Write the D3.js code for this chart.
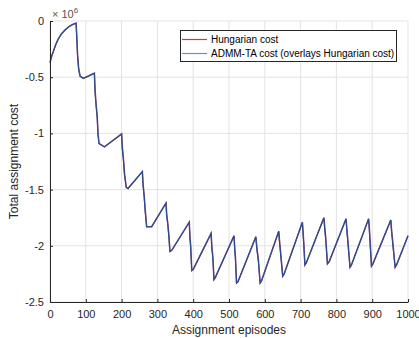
<!DOCTYPE html>
<html>
  <head>
    <meta charset="utf-8">
    <title>Total assignment cost</title>
    <style>
      body {
        margin: 0;
        background: #fff;
        font-family: 'Liberation Sans', Arial, Helvetica, sans-serif;
      }
      .tick text {
        fill: #262626;
        font-size: 11px;
      }
      .axis path.domain,
      .axis .tick line {
        stroke: #262626;
      }
      .grid line {
        stroke: #e3e3e3;
      }
      .label {
        fill: #262626;
        font-size: 12px;
      }
      .legend text {
        fill: #000;
        font-size: 10px;
      }
    </style>
  </head>
  <body>
    <svg width="419" height="338"></svg>
    <script src="https://d3js.org/d3.v7.min.js"></script>
    <script>
      // values in units of 1e6 (axis shows x10^6)
      const episodes = [
        0, 5, 10, 16, 23, 32, 42, 52, 61, 68, 73, 75, 77, 80, 84, 93, 124,
        126, 129, 132, 134, 137, 152, 200,
        202, 205, 208, 213, 218, 258,
        260, 263, 266, 270, 284, 324,
        326, 329, 332, 335, 340, 389,
        391, 393, 396, 400, 450,
        452, 455, 458, 462, 514,
        516, 518, 521, 525, 575,
        578, 582, 587, 591, 639,
        641, 644, 650, 654, 705,
        707, 709, 712, 716, 765,
        767, 770, 775, 780, 827,
        829, 832, 838, 842, 890,
        892, 894, 898, 902, 952,
        954, 957, 964, 968, 1000
      ];
      const hungarianCost = [
        -0.37, -0.31, -0.265, -0.21, -0.16, -0.115, -0.08, -0.052, -0.035, -0.025, -0.02,
        -0.15, -0.30, -0.42, -0.49, -0.51, -0.465,
        -0.62, -0.75, -0.85, -1.0, -1.09, -1.12, -1.005,
        -1.12, -1.22, -1.35, -1.48, -1.49, -1.34,
        -1.45, -1.55, -1.68, -1.83, -1.83, -1.62,
        -1.72, -1.80, -1.90, -2.05, -2.04, -1.79,
        -1.92, -2.00, -2.22, -2.21, -1.89,
        -2.00, -2.10, -2.30, -2.28, -1.91,
        -2.02, -2.10, -2.33, -2.32, -1.92,
        -2.02, -2.12, -2.33, -2.31, -1.87,
        -1.95, -2.05, -2.27, -2.25, -1.79,
        -1.88, -1.98, -2.17, -2.15, -1.75,
        -1.82, -1.92, -2.16, -2.14, -1.76,
        -1.84, -1.95, -2.19, -2.17, -1.76,
        -1.84, -1.95, -2.18, -2.16, -1.77,
        -1.85, -1.95, -2.19, -2.17, -1.91
      ];
      const admmCost = [
        -0.37, -0.31, -0.265, -0.21, -0.16, -0.115, -0.08, -0.052, -0.035, -0.025, -0.02,
        -0.17, -0.31, -0.43, -0.49, -0.51, -0.465,
        -0.64, -0.76, -0.87, -1.01, -1.09, -1.12, -1.005,
        -1.14, -1.23, -1.37, -1.48, -1.49, -1.34,
        -1.47, -1.56, -1.70, -1.83, -1.83, -1.62,
        -1.74, -1.81, -1.92, -2.05, -2.04, -1.79,
        -1.94, -2.02, -2.22, -2.21, -1.89,
        -2.02, -2.12, -2.30, -2.28, -1.91,
        -2.04, -2.12, -2.33, -2.32, -1.92,
        -2.04, -2.14, -2.33, -2.31, -1.87,
        -1.97, -2.07, -2.27, -2.25, -1.79,
        -1.90, -2.00, -2.17, -2.15, -1.75,
        -1.84, -1.94, -2.16, -2.14, -1.76,
        -1.86, -1.97, -2.19, -2.17, -1.76,
        -1.86, -1.97, -2.18, -2.16, -1.77,
        -1.87, -1.97, -2.19, -2.17, -1.91
      ];
      const xTicks = [0, 100, 200, 300, 400, 500, 600, 700, 800, 900, 1000];
      const yTicks = [0, -0.5, -1, -1.5, -2, -2.5];
      const seriesNames = ['Hungarian cost', 'ADMM-TA cost (overlays Hungarian cost)'];

      const svg = d3.select('svg');
      const plotLeft = 50, plotRight = 408, plotTop = 21, plotBottom = 302;

      const x = d3.scaleLinear().domain([0, 1000]).range([plotLeft, plotRight]);
      const y = d3.scaleLinear().domain([-2.5, 0]).range([plotBottom, plotTop]);

      // grid
      svg.append('g').attr('class', 'grid')
        .selectAll('line').data(xTicks).enter().append('line')
          .attr('x1', d => x(d)).attr('x2', d => x(d))
          .attr('y1', plotTop).attr('y2', plotBottom);
      svg.append('g').attr('class', 'grid')
        .selectAll('line').data(yTicks).enter().append('line')
          .attr('x1', plotLeft).attr('x2', plotRight)
          .attr('y1', d => y(d)).attr('y2', d => y(d));

      // lines
      const line = d3.line()
        .x((d, i) => x(episodes[i]))
        .y(d => y(d));

      svg.append('path')
        .datum(hungarianCost)
        .attr('fill', 'none')
        .attr('stroke', '#8a3f70')
        .attr('stroke-width', 1.5)
        .attr('d', line);
      svg.append('path')
        .datum(admmCost)
        .attr('fill', 'none')
        .attr('stroke', '#244f90')
        .attr('stroke-width', 1.1)
        .attr('d', line);

      // axes
      svg.append('g')
        .attr('class', 'axis')
        .attr('transform', `translate(0,${plotBottom})`)
        .call(d3.axisBottom(x).tickValues(xTicks).tickFormat(d => String(d))
          .tickSizeInner(-3).tickSizeOuter(0).tickPadding(8));
      svg.append('g')
        .attr('class', 'axis')
        .attr('transform', `translate(${plotLeft},0)`)
        .call(d3.axisLeft(y).tickValues(yTicks).tickFormat(d => String(d))
          .tickSizeInner(-3).tickSizeOuter(0).tickPadding(6));

      // exponent
      const expo = svg.append('text')
        .attr('class', 'label')
        .attr('x', 52).attr('y', 18)
        .style('font-size', '11px')
        .style('fill', '#555');
      expo.append('tspan').text('\u00d7 10');
      expo.append('tspan').attr('dy', -5).style('font-size', '8px').text('6');

      // axis labels
      svg.append('text')
        .attr('class', 'label')
        .attr('text-anchor', 'middle')
        .attr('x', (plotLeft + plotRight) / 2).attr('y', 334)
        .text('Assignment episodes');
      svg.append('text')
        .attr('class', 'label')
        .attr('text-anchor', 'middle')
        .attr('transform', `translate(18,${(plotTop + plotBottom) / 2}) rotate(-90)`)
        .text('Total assignment cost');

      // legend
      const legendColors = ['#ee2a2a', '#4f9bd8'];
      const legend = svg.append('g').attr('class', 'legend');
      legend.append('rect')
        .attr('x', 180.5).attr('y', 30.5)
        .attr('width', 216).attr('height', 31)
        .attr('fill', '#fff').attr('stroke', '#262626').attr('stroke-width', 1);
      const rows = legend.selectAll('g.row').data(seriesNames).enter().append('g')
        .attr('class', 'row')
        .attr('transform', (d, i) => `translate(0,${39.5 + i * 14})`);
      rows.append('line')
        .attr('x1', 182).attr('x2', 207)
        .attr('stroke', (d, i) => legendColors[i])
        .attr('stroke-width', 1.2);
      rows.append('text')
        .attr('x', 211).attr('dy', '0.35em')
        .text(d => d);
    </script>
  </body>
</html>
